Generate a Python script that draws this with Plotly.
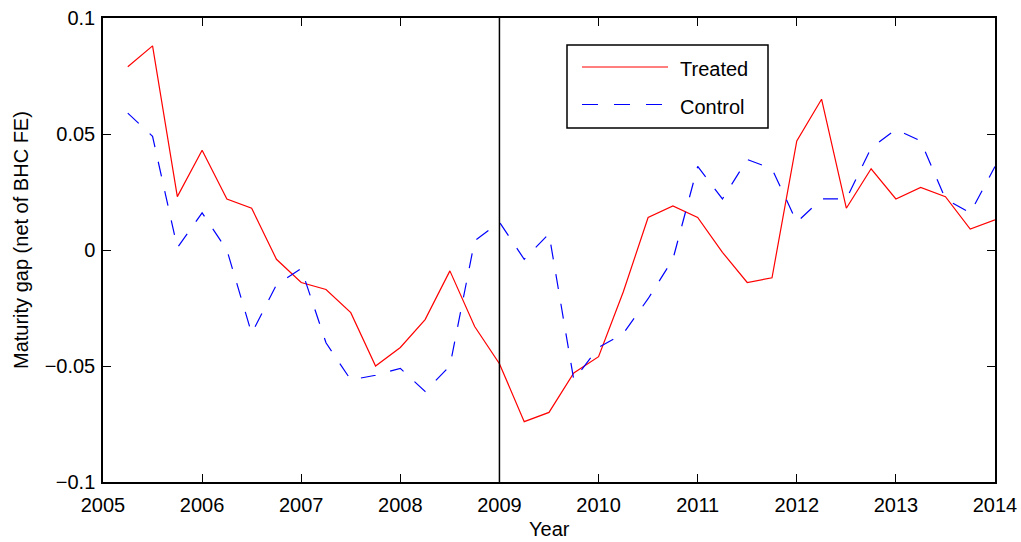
import plotly.graph_objects as go

# ---- data ----
quarters = [2005.25, 2005.5, 2005.75,
            2006.0, 2006.25, 2006.5, 2006.75,
            2007.0, 2007.25, 2007.5, 2007.75,
            2008.0, 2008.25, 2008.5, 2008.75,
            2009.0, 2009.25, 2009.5, 2009.75,
            2010.0, 2010.25, 2010.5, 2010.75,
            2011.0, 2011.25, 2011.5, 2011.75,
            2012.0, 2012.25, 2012.5, 2012.75,
            2013.0, 2013.25, 2013.5, 2013.75,
            2014.0]
treated = [0.079, 0.088, 0.023,
           0.043, 0.022, 0.018, -0.004,
           -0.014, -0.017, -0.027, -0.050,
           -0.042, -0.030, -0.009, -0.033,
           -0.049, -0.074, -0.070, -0.053,
           -0.046, -0.018, 0.014, 0.019,
           0.014, -0.001, -0.014, -0.012,
           0.047, 0.065, 0.018, 0.035,
           0.022, 0.027, 0.023, 0.009,
           0.013]
control = [0.059, 0.049, 0.001,
           0.016, 0.000, -0.036, -0.015,
           -0.008, -0.040, -0.056, -0.054,
           -0.051, -0.061, -0.050, 0.004,
           0.012, -0.004, 0.007, -0.056,
           -0.042, -0.036, -0.021, -0.004,
           0.036, 0.022, 0.039, 0.035,
           0.012, 0.022, 0.022, 0.044,
           0.052, 0.047, 0.022, 0.016,
           0.036]
x_ticks = [2005, 2006, 2007, 2008, 2009, 2010, 2011, 2012, 2013, 2014]
y_ticks = [-0.1, -0.05, 0, 0.05, 0.1]
y_ticktext = ["\u22120.1", "\u22120.05", "0", "0.05", "0.1"]
event_year = 2009
series_names = ["Treated", "Control"]

# ---- layout geometry (pixels) ----
W, H = 1021, 542
L, R, T, B = 103, 995, 18, 482
FONT = "Liberation Sans, Arial, Helvetica, sans-serif"
FS = 20


def px2x(px):
    return (px - L) / (R - L)


def py2y(py):
    return (B - py) / (B - T)


fig = go.Figure()
fig.add_trace(go.Scatter(x=quarters, y=treated, mode="lines", name=series_names[0],
                         line=dict(color="#ff0000", width=1.2), showlegend=False))
fig.add_trace(go.Scatter(x=quarters, y=control, mode="lines", name=series_names[1],
                         line=dict(color="#0000ff", width=1.2, dash="15px,15px"),
                         showlegend=False))

# vertical event line
fig.add_shape(type="line", xref="x", yref="y", x0=event_year, x1=event_year,
              y0=y_ticks[0], y1=y_ticks[-1], line=dict(color="black", width=1.5))

# manual MATLAB-style legend
fig.add_shape(type="rect", xref="paper", yref="paper",
              x0=px2x(567), x1=px2x(768), y0=py2y(128), y1=py2y(45),
              line=dict(color="black", width=1.5), fillcolor="white", layer="above")
fig.add_shape(type="line", xref="paper", yref="paper",
              x0=px2x(582), x1=px2x(668), y0=py2y(67), y1=py2y(67),
              line=dict(color="#ff0000", width=1.2), layer="above")
fig.add_shape(type="line", xref="paper", yref="paper",
              x0=px2x(582), x1=px2x(668), y0=py2y(104.5), y1=py2y(104.5),
              line=dict(color="#0000ff", width=1.2, dash="16px,16px"), layer="above")
fig.add_annotation(text=series_names[0], xref="paper", yref="paper",
                   x=px2x(678), y=py2y(69), xanchor="left", yanchor="middle",
                   showarrow=False, font=dict(family=FONT, size=FS, color="black"))
fig.add_annotation(text=series_names[1], xref="paper", yref="paper",
                   x=px2x(678), y=py2y(107), xanchor="left", yanchor="middle",
                   showarrow=False, font=dict(family=FONT, size=FS, color="black"))

# axis titles
fig.add_annotation(text="Year", xref="paper", yref="paper",
                   x=0.5, y=py2y(529), xanchor="center", yanchor="middle",
                   showarrow=False, font=dict(family=FONT, size=FS, color="black"))
fig.add_annotation(text="Maturity gap (net of BHC FE)", xref="paper", yref="paper",
                   x=px2x(21), y=py2y(240), xanchor="center", yanchor="middle",
                   textangle=-90, showarrow=False,
                   font=dict(family=FONT, size=FS, color="black"))

axis_common = dict(showgrid=False, zeroline=False, showline=True, linecolor="black",
                   linewidth=1.5, mirror="ticks", ticks="inside", ticklen=8,
                   tickwidth=1, tickcolor="black", automargin=False,
                   tickfont=dict(family=FONT, size=FS, color="black"))

fig.update_xaxes(range=[2005, 2014], tickvals=x_ticks,
                 ticktext=[str(v) for v in x_ticks], ticklabelstandoff=4,
                 **axis_common)
fig.update_yaxes(range=[-0.1, 0.1], tickvals=y_ticks, ticktext=y_ticktext,
                 ticklabelstandoff=2, **axis_common)

fig.update_layout(width=W, height=H,
                  margin=dict(l=L, r=W - R, t=T, b=H - B, pad=0, autoexpand=False),
                  paper_bgcolor="white", plot_bgcolor="white",
                  font=dict(family=FONT, size=FS, color="black"))

fig.write_html("out.html", config={"displayModeBar": False},
               post_script="document.body.style.margin='0';"
                           "document.body.style.overflow='hidden';")
